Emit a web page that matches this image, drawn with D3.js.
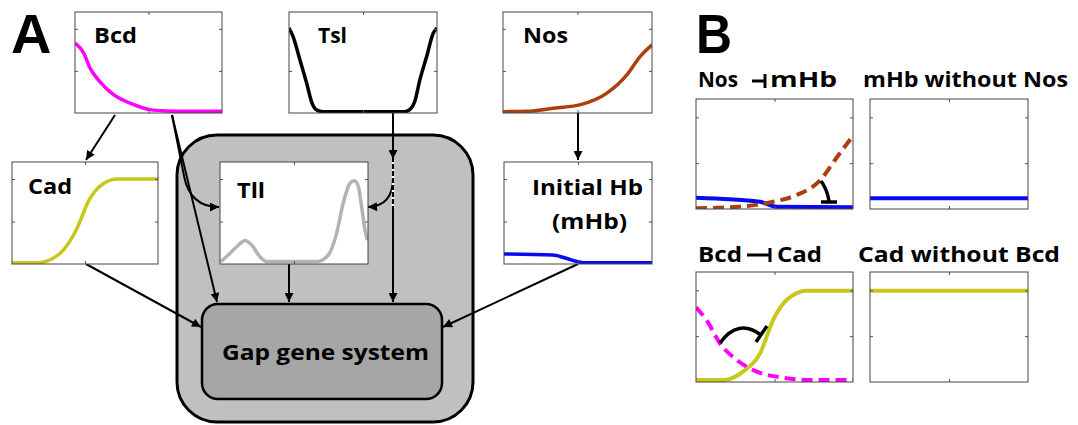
<!DOCTYPE html>
<html>
<head>
<meta charset="utf-8">
<script src="https://cdn.jsdelivr.net/npm/d3@7"></script>
<style>
  body { margin: 0; background: #fff; }
  text { font-family: "Open Sans", Lato, sans-serif; font-weight: bold; fill: #000; }
</style>
</head>
<body>
<div id="app"></div>
<script>
// profile data, x in embryo length [0,1], y in model units
const bcdX = [0, 0.06, 0.1, 0.17, 0.26, 0.4, 0.51, 0.62, 0.8, 1];
const bcdY = [0.83, 0.71, 0.54, 0.37, 0.22, 0.1, 0.04, 0.025, 0.02, 0.02];

const tslX = [0, 0.027, 0.074, 0.12, 0.153, 0.187, 0.23, 0.5, 0.78, 0.815, 0.85, 0.885, 0.93, 0.975, 1];
const tslY = [1.01, 0.91, 0.63, 0.35, 0.13, 0.036, 0.016, 0.016, 0.016, 0.04, 0.14, 0.4, 0.67, 0.95, 1.01];

const nosX = [0, 0.16, 0.35, 0.52, 0.7, 0.83, 0.92, 1];
const nosY = [0.016, 0.02, 0.06, 0.1, 0.24, 0.45, 0.67, 0.81];

const cadX = [0, 0.18, 0.33, 0.44, 0.53, 0.63, 0.72, 1];
const cadY = [0.016, 0.016, 0.126, 0.4, 0.76, 0.95, 1.0, 1.0];

const tllX = [0.005, 0.068, 0.124, 0.169, 0.214, 0.27, 0.315, 0.653, 0.732, 0.788, 0.833, 0.878, 0.908, 0.935, 0.957, 0.98, 0.995];
const tllY = [0.028, 0.126, 0.223, 0.276, 0.223, 0.084, 0.028, 0.028, 0.106, 0.36, 0.72, 0.95, 0.98, 0.91, 0.67, 0.4, 0.28];

const hbX = [0, 0.33, 0.42, 0.54, 1];
const hbY = [0.118, 0.106, 0.067, 0.016, 0.016];

// panel B
const mhbX = [0, 0.217, 0.408, 0.514, 1];
const mhbY = [0.124, 0.106, 0.079, 0.025, 0.019];
const nosDashX = [0, 0.32, 0.49, 0.64, 0.79, 0.9, 1];
const nosDashY = [0.007, 0.032, 0.079, 0.152, 0.312, 0.57, 0.8];
const mhbFlatX = [0, 1];
const mhbFlatY = [0.116, 0.116];
const cadBX = [0, 0.174, 0.3, 0.408, 0.49, 0.577, 0.705, 1];
const cadBY = [0.022, 0.022, 0.113, 0.312, 0.672, 0.894, 0.996, 0.996];
const bcdDashX = [0, 0.068, 0.153, 0.26, 0.387, 0.535, 0.748, 1];
const bcdDashY = [0.815, 0.672, 0.42, 0.24, 0.113, 0.052, 0.022, 0.022];
const cadFlatX = [0, 1];
const cadFlatY = [0.996, 0.996];

const xTicks = [0.5];
const yTicks = [0.5, 1];

const W = 1078, H = 425;

const svg = d3.select("#app").append("svg")
  .attr("width", W)
  .attr("height", H);

svg.append("defs").append("marker")
  .attr("id", "arr")
  .attr("viewBox", "0 0 10 10")
  .attr("refX", 10).attr("refY", 5)
  .attr("markerUnits", "userSpaceOnUse")
  .attr("markerWidth", 10).attr("markerHeight", 9)
  .attr("orient", "auto")
  .append("path")
  .attr("d", "M0,0 L10,5 L0,10 z")
  .attr("fill", "#000");

// big gray container
svg.append("rect")
  .attr("x", 177).attr("y", 135).attr("width", 296).attr("height", 287)
  .attr("rx", 40).attr("ry", 40)
  .attr("fill", "#c0c0c0").attr("stroke", "#000").attr("stroke-width", 3);

svg.append("rect")
  .attr("x", 202).attr("y", 304).attr("width", 240).attr("height", 95)
  .attr("rx", 16).attr("ry", 16)
  .attr("fill", "#a6a6a6").attr("stroke", "#000").attr("stroke-width", 2.5);

// arrows
const arrows = svg.append("g")
  .attr("fill", "none").attr("stroke", "#000").attr("stroke-width", 2);

function arrow(d) {
  arrows.append("path").attr("d", d).attr("marker-end", "url(#arr)");
}
arrow("M115,115 L86,160");
arrow("M172,115 L217,302");
arrow("M172,115 L184,176 Q190,207 219,207");
arrow("M393,113 L393,159");
arrow("M393,159 L393,302");
arrow("M393,178 Q393,206 368,207");
arrow("M289,264 L289,302");
arrow("M578,113 L578,160");
arrow("M578,264 L443,327");
arrow("M86,264 L201,327");
// white gaps where the Tsl line crosses
svg.append("line")
  .attr("x1", 393).attr("x2", 393).attr("y1", 162).attr("y2", 206)
  .attr("stroke", "#fff").attr("stroke-width", 2.5)
  .attr("stroke-dasharray", "2,5");

let clipId = 0;
function miniPlot(x0, y0, w, h, series) {
  const g = svg.append("g").attr("transform", `translate(${x0},${y0})`);
  const x = d3.scaleLinear().domain([0, 1]).range([0, w]);
  const y = d3.scaleLinear().domain([0, 1.2]).range([h, 0]);

  g.append("rect").attr("width", w).attr("height", h)
    .attr("fill", "#fff");

  const id = "clip" + (clipId++);
  g.append("clipPath").attr("id", id)
    .append("rect").attr("width", w).attr("height", h);

  const line = d3.line()
    .x(d => x(d[0]))
    .y(d => y(d[1]))
    .curve(d3.curveMonotoneX);

  const plot = g.append("g").attr("clip-path", `url(#${id})`);
  series.forEach(s => {
    plot.append("path")
      .datum(d3.zip(s.xs, s.ys))
      .attr("d", line)
      .attr("fill", "none")
      .attr("stroke", s.color)
      .attr("stroke-width", s.width || 3.5)
      .attr("stroke-dasharray", s.dash || null);
  });

  const axes = [
    [d3.axisBottom(x).tickValues(xTicks), `translate(0,${h})`],
    [d3.axisTop(x).tickValues(xTicks), null],
    [d3.axisLeft(y).tickValues(yTicks), null],
    [d3.axisRight(y).tickValues(yTicks), `translate(${w},0)`]
  ];
  axes.forEach(([ax, t]) => {
    const a = g.append("g").attr("transform", t)
      .call(ax.tickSize(-3).tickFormat(""));
    a.select(".domain").remove();
    a.selectAll("line").attr("stroke", "#555");
  });

  g.append("rect").attr("width", w).attr("height", h)
    .attr("fill", "none").attr("stroke", "#444").attr("stroke-width", 1);
  return g;
}

const magenta = "#ff00ff", brown = "#ab3f0d", olive = "#c8c81a", blue = "#0a0af0";

miniPlot(75, 12, 147, 101, [{ xs: bcdX, ys: bcdY, color: magenta }]);
miniPlot(289, 12, 148, 101, [{ xs: tslX, ys: tslY, color: "#000" }]);
miniPlot(503, 12, 149, 101, [{ xs: nosX, ys: nosY, color: brown }]);
miniPlot(12, 162, 146, 102, [{ xs: cadX, ys: cadY, color: olive }]);
miniPlot(220, 162, 148, 102, [{ xs: tllX, ys: tllY, color: "#b3b3b3" }]);
miniPlot(504, 162, 148, 102, [{ xs: hbX, ys: hbY, color: blue }]);

miniPlot(696, 99, 157, 110, [
  { xs: mhbX, ys: mhbY, color: blue, width: 4 },
  { xs: nosDashX, ys: nosDashY, color: brown, width: 4, dash: "11,6" }
]);
miniPlot(870, 99, 158, 110, [{ xs: mhbFlatX, ys: mhbFlatY, color: blue, width: 4 }]);
miniPlot(696, 272, 157, 110, [
  { xs: cadBX, ys: cadBY, color: olive, width: 4 },
  { xs: bcdDashX, ys: bcdDashY, color: magenta, width: 4, dash: "11,6" }
]);
miniPlot(870, 272, 158, 110, [{ xs: cadFlatX, ys: cadFlatY, color: olive, width: 4 }]);

// inhibition marks inside panel B
const inh = svg.append("g").attr("fill", "none").attr("stroke", "#000").attr("stroke-width", 3.5);
inh.append("path").attr("d", "M821,181 Q827,189 829,201");
inh.append("path").attr("d", "M821,202 L837,202");
inh.append("path").attr("d", "M720,343 Q738,318 761,335");
inh.append("path").attr("d", "M756,342 L767,326");

// labels: text, left x, baseline y, width, size
const labels = [
  ["Bcd", 94, 43, 43, 22],
  ["Tsl", 318, 43, 29, 22],
  ["Nos", 523, 43, 45, 22],
  ["Cad", 28, 194, 44, 22],
  ["Tll", 237, 198, 28, 22],
  ["Initial Hb", 532, 195, 111, 22],
  ["(mHb)", 552, 229, 75, 22],
  ["Gap gene system", 222, 360, 207, 22],
  ["mHb without Nos", 863, 87, 205, 21],
  ["Cad without Bcd", 858, 262, 202, 21],
  ["Nos", 698, 87, 40, 21],
  ["mHb", 770, 87, 67, 21],
  ["Bcd", 698, 262, 44, 21],
  ["Cad", 777, 262, 45, 21]
];
svg.selectAll("text.lab").data(labels).enter().append("text")
  .attr("class", "lab")
  .attr("x", d => d[1]).attr("y", d => d[2])
  .attr("textLength", d => d[3])
  .attr("lengthAdjust", "spacingAndGlyphs")
  .attr("font-size", d => d[4])
  .text(d => d[0]);

svg.append("text").attr("x", 11).attr("y", 53).attr("font-size", 56)
  .style("font-family", "'Liberation Sans', Arial, sans-serif").text("A");
svg.append("text").attr("x", 696).attr("y", 53).attr("font-size", 56)
  .attr("textLength", 36).attr("lengthAdjust", "spacingAndGlyphs")
  .style("font-family", "'Liberation Sans', Arial, sans-serif").text("B");

// inhibitor glyphs in titles
const glyph = svg.append("g").attr("stroke", "#000").attr("stroke-width", 3);
glyph.append("line").attr("x1", 752).attr("x2", 766).attr("y1", 81).attr("y2", 81);
glyph.append("line").attr("x1", 765).attr("x2", 765).attr("y1", 74).attr("y2", 88);
glyph.append("line").attr("x1", 747).attr("x2", 771).attr("y1", 255).attr("y2", 255);
glyph.append("line").attr("x1", 770).attr("x2", 770).attr("y1", 248).attr("y2", 262);
</script>
</body>
</html>
